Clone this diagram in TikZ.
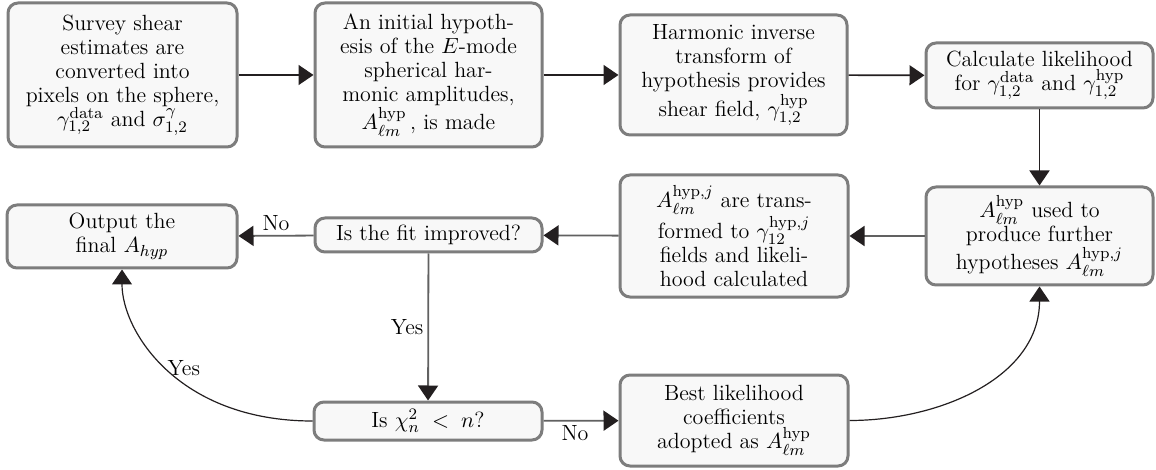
\documentclass[tikz,border=0pt]{standalone}
\usetikzlibrary{arrows.meta}
\definecolor{boxfill}{RGB}{248,248,248}
\definecolor{boxdraw}{RGB}{125,125,125}
\definecolor{tipcol}{RGB}{35,31,32}
\newcommand{\figfont}{\fontsize{11}{12}\selectfont}
\tikzset{
  box/.style={draw=boxdraw, fill=boxfill, line width=1.5pt, rounded corners=5pt,
    align=center, inner sep=2pt, font=\figfont},
  toparrow/.style={draw=tipcol, line width=0.8pt, -{Triangle[length=7.5pt,width=10pt,color=tipcol]}},
  rowarrow/.style={draw=black!62, line width=0.9pt, -{Triangle[length=7.5pt,width=10pt,color=tipcol]}},
  curvearrow/.style={draw=tipcol, line width=0.6pt, -{Triangle[length=7.5pt,width=10pt,color=tipcol]}},
  lbl/.style={font=\figfont, inner sep=2pt}
}
\begin{document}
\begin{tikzpicture}[x=0.5pt,y=-0.5pt]
\useasboundingbox (0,0) rectangle (1156,470);
% top row
\node[box, minimum width=114.5pt, minimum height=72pt] (b1) at (122.5,75)
  {Survey shear\\ estimates are\\ converted into\\ pixels on the sphere,\\ $\gamma_{1,2}^{\mathrm{data}}$ and $\sigma_{1,2}^{\gamma}$};
\node[box, minimum width=113.5pt, minimum height=72pt] (b2) at (428.5,75)
  {An initial hypoth-\\ esis of the $E$-mode\\ spherical har-\\ monic amplitudes,\\ $A_{\ell m}^{\mathrm{hyp}}$\,, is made};
\node[box, minimum width=113.5pt, minimum height=60pt] (b3) at (733.5,75)
  {Harmonic inverse\\ transform of\\ hypothesis provides\\ shear field, $\gamma_{1,2}^{\mathrm{hyp}}$};
\node[box, minimum width=113.5pt, minimum height=32.5pt] (b4) at (1039.5,75.5)
  {Calculate likelihood\\ for $\gamma_{1,2}^{\mathrm{data}}$ and $\gamma_{1,2}^{\mathrm{hyp}}$};
% middle row
\node[box, minimum width=115pt, minimum height=31.5pt] (out) at (122,236.5)
  {Output the\\ final $A_{hyp}$};
\node[box, minimum width=113.5pt, minimum height=17pt] (fit) at (428.5,235)
  {Is the fit improved?};
\node[box, minimum width=114pt, minimum height=61pt] (tr) at (734,236)
  {$A_{\ell m}^{\mathrm{hyp},j}$ are trans-\\ formed to $\gamma_{12}^{\mathrm{hyp},j}$\\ fields and likeli-\\ hood calculated};
\node[box, minimum width=113.5pt, minimum height=49pt] (used) at (1039.5,236)
  {$A_{\ell m}^{\mathrm{hyp}}$ used to\\ produce further\\ hypotheses $A_{\ell m}^{\mathrm{hyp},j}$};
% bottom row
\node[box, minimum width=114pt, minimum height=19pt] (chi) at (428,421)
  {Is $\chi_n^2\;<\;n$?};
\node[box, minimum width=114pt, minimum height=45.5pt] (best) at (734,420.5)
  {Best likelihood\\ coefficients\\ adopted as $A_{\ell m}^{\mathrm{hyp}}$};
% connectors
\draw[toparrow] (b1) -- (b2);
\draw[toparrow] (b2) -- (b3);
\draw[toparrow] (b3) -- (b4);
\draw[toparrow] (b4) -- (used);
\draw[rowarrow] (used) -- (tr);
\draw[rowarrow] (tr) -- (fit);
\draw[rowarrow] (fit) -- node[lbl, above] {No} (out);
\draw[rowarrow] (fit) -- node[lbl, left, pos=0.5] {Yes} (chi);
\draw[rowarrow] (chi) -- node[lbl, below, xshift=-3pt] {No} (best);
\draw[curvearrow] (chi.west) to[out=180,in=-90,out distance=67pt,in distance=31pt]
  node[lbl, pos=0.5, anchor=west, inner sep=0pt] {Yes} (out.south);
\draw[curvearrow] (best.east) to[out=0,in=-90] (used.south);
\end{tikzpicture}
\end{document}
